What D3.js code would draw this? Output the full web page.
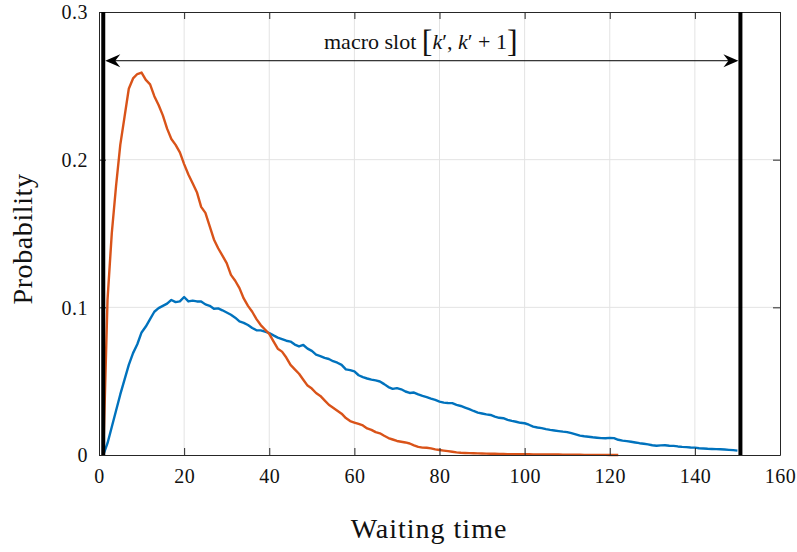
<!DOCTYPE html>
<html>
<head>
<meta charset="utf-8">
<script src="https://cdn.jsdelivr.net/npm/d3@7/dist/d3.min.js"></script>
<style>
  html, body { margin: 0; padding: 0; background: #fff; }
  svg { display: block; }
  text { font-family: "Liberation Serif", "DejaVu Serif", serif; fill: #111; }
</style>
</head>
<body>
<svg id="chart" width="797" height="552"></svg>
<script>
// Waiting-time distributions over one macro slot
const xTicks = [0, 20, 40, 60, 80, 100, 120, 140, 160];
const yTicks = [0, 0.1, 0.2, 0.3];
const yTickLabels = ["0", "0.1", "0.2", "0.3"];

// slot boundaries (waiting time)
const slotStart = 1;
const slotEnd = 150.7;
const arrowLevel = 0.267;

// blue series: waiting time 1, 2, 3, ... 151
const blueStart = 1;
const blueValues = [
  0, 0.008, 0.019, 0.030, 0.041, 0.051, 0.061, 0.069, 0.075, 0.083,
  0.087, 0.092, 0.097, 0.0995, 0.101, 0.1025, 0.105, 0.1035, 0.104, 0.107,
  0.104, 0.1045, 0.104, 0.104, 0.102, 0.101, 0.099, 0.0993, 0.098, 0.0965,
  0.095, 0.093, 0.0905, 0.0895, 0.088, 0.086, 0.0845, 0.0844, 0.0835, 0.0826,
  0.081, 0.0795, 0.0785, 0.0774, 0.0768, 0.0748, 0.0735, 0.0745, 0.072, 0.0705,
  0.068, 0.067, 0.0658, 0.065, 0.0635, 0.0625, 0.061, 0.058, 0.0575, 0.0566,
  0.054, 0.0527, 0.0518, 0.051, 0.0505, 0.0498, 0.048, 0.046, 0.0448, 0.0453,
  0.0445, 0.043, 0.042, 0.0423, 0.041, 0.040, 0.0392, 0.0382, 0.0373, 0.0362,
  0.0355, 0.0352, 0.0351, 0.034, 0.0332, 0.0321, 0.031, 0.0298, 0.0287, 0.0281,
  0.0275, 0.0271, 0.026, 0.0252, 0.0249, 0.0238, 0.0231, 0.0225, 0.0218, 0.0215,
  0.0205, 0.0192, 0.0186, 0.0182, 0.0175, 0.0170, 0.0166, 0.0162, 0.0158, 0.0155,
  0.0148, 0.0140, 0.0131, 0.0127, 0.0124, 0.0120, 0.0117, 0.0114, 0.0113, 0.0116,
  0.0114, 0.0103, 0.0097, 0.0094, 0.0090, 0.0085, 0.0080, 0.0076, 0.0072, 0.0066,
  0.0063, 0.0065, 0.0066, 0.0063, 0.0062, 0.0058, 0.0055, 0.0053, 0.0051, 0.0050,
  0.0046, 0.0044, 0.0042, 0.0041, 0.0040, 0.0039, 0.0037, 0.0035, 0.0033, 0.0030
];

// orange series: waiting time 1, 2, 3, ... 122
const orangeStart = 1;
const orangeValues = [
  0, 0.105, 0.150, 0.182, 0.210, 0.229, 0.248, 0.255, 0.258, 0.259,
  0.254, 0.251, 0.243, 0.237, 0.230, 0.221, 0.214, 0.210, 0.205, 0.197,
  0.190, 0.184, 0.178, 0.168, 0.164, 0.155, 0.146, 0.140, 0.135, 0.130,
  0.122, 0.118, 0.113, 0.106, 0.101, 0.097, 0.092, 0.088, 0.085, 0.082,
  0.077, 0.072, 0.070, 0.066, 0.061, 0.058, 0.055, 0.051, 0.047, 0.045,
  0.042, 0.040, 0.037, 0.034, 0.032, 0.030, 0.028, 0.025, 0.023, 0.022,
  0.021, 0.020, 0.018, 0.017, 0.0155, 0.0147, 0.013, 0.0115, 0.0105, 0.0095,
  0.009, 0.0085, 0.0078, 0.0065, 0.0055, 0.005, 0.0049, 0.0045, 0.0038, 0.0034,
  0.003, 0.0026, 0.0022, 0.0018, 0.0015, 0.0014, 0.0013, 0.0012, 0.0011, 0.0010,
  0.0009, 0.0008, 0.0008, 0.0007, 0.0007, 0.0006, 0.0006, 0.0006, 0.0005, 0.0005,
  0.0005, 0.0004, 0.0004, 0.0004, 0.0003, 0.0003, 0.0003, 0.0003, 0.0002, 0.0002,
  0.0002, 0.0002, 0.0002, 0.0001, 0.0001, 0.0001, 0.0001, 0.0001, 0.0001, 0.0000,
  0.0000, 0.0000
];

const svg = d3.select("#chart");
const plotLeft = 99, plotRight = 780, plotTop = 12, plotBottom = 455;

const x = d3.scaleLinear().domain([0, 160]).range([plotLeft, plotRight]);
const y = d3.scaleLinear().domain([0, 0.3]).range([plotBottom, plotTop]);

const axisColor = "#262626";
const gridColor = "#e3e3e3";
const tickLen = 7;

// grid
const grid = svg.append("g");
grid.selectAll("line.gx").data(xTicks.slice(1, -1)).enter().append("line")
  .attr("x1", d => x(d)).attr("x2", d => x(d))
  .attr("y1", plotTop).attr("y2", plotBottom)
  .attr("stroke", gridColor).attr("stroke-width", 1);
grid.selectAll("line.gy").data(yTicks.slice(1, -1)).enter().append("line")
  .attr("x1", plotLeft).attr("x2", plotRight)
  .attr("y1", d => y(d)).attr("y2", d => y(d))
  .attr("stroke", gridColor).attr("stroke-width", 1);

// series
const line = d3.line().x(d => x(d[0])).y(d => y(d[1]));
const bluePts = blueValues.map((v, i) => [blueStart + i, v]);
const orangePts = orangeValues.map((v, i) => [orangeStart + i, v]);

svg.append("path").datum(bluePts).attr("d", line)
  .attr("fill", "none").attr("stroke", "#0072BD")
  .attr("stroke-width", 2.4).attr("stroke-linejoin", "round");
svg.append("path").datum(orangePts).attr("d", line)
  .attr("fill", "none").attr("stroke", "#D95319")
  .attr("stroke-width", 2.4).attr("stroke-linejoin", "round");

// axes (bottom/left with labels, top/right as mirrored boxes)
const fmtY = d => yTickLabels[yTicks.indexOf(d)];
const gx = svg.append("g").attr("transform", `translate(0,${plotBottom})`)
  .call(d3.axisBottom(x).tickValues(xTicks).tickSizeInner(-tickLen).tickSizeOuter(0).tickPadding(14));
const gxt = svg.append("g").attr("transform", `translate(0,${plotTop})`)
  .call(d3.axisTop(x).tickValues(xTicks).tickSizeInner(-tickLen).tickSizeOuter(0).tickFormat(""));
const gy = svg.append("g").attr("transform", `translate(${plotLeft},0)`)
  .call(d3.axisLeft(y).tickValues(yTicks).tickFormat(fmtY).tickSizeInner(-tickLen).tickSizeOuter(0).tickPadding(11));
const gyr = svg.append("g").attr("transform", `translate(${plotRight},0)`)
  .call(d3.axisRight(y).tickValues(yTicks).tickSizeInner(-tickLen).tickSizeOuter(0).tickFormat(""));

[gx, gxt, gy, gyr].forEach(g => {
  g.select(".domain").attr("stroke", axisColor).attr("stroke-width", 1);
  g.selectAll(".tick line").attr("stroke", axisColor).attr("stroke-width", 1);
  g.selectAll(".tick text")
    .attr("font-family", "'Liberation Serif', serif")
    .attr("font-size", 20).attr("letter-spacing", 0.5).attr("fill", "#111");
});
gy.selectAll(".tick text").attr("dy", "0.34em");

// slot boundaries
svg.selectAll("line.slot").data([slotStart, slotEnd]).enter().append("line")
  .attr("x1", d => x(d)).attr("x2", d => x(d))
  .attr("y1", y(0)).attr("y2", y(0.3))
  .attr("stroke", "#000").attr("stroke-width", 4);

// double arrow across the slot
const ay = y(arrowLevel);
const ax0 = x(slotStart) + 2, ax1 = x(slotEnd) - 2;
svg.append("line")
  .attr("x1", ax0 + 6).attr("x2", ax1 - 6)
  .attr("y1", ay).attr("y2", ay)
  .attr("stroke", "#000").attr("stroke-width", 1);
const head = (tip, dir) => {
  const L = 15, W = 6.5, notch = 10;
  return `M${tip},${ay} L${tip + dir * L},${ay - W} L${tip + dir * notch},${ay} L${tip + dir * L},${ay + W} Z`;
};
svg.append("path").attr("d", head(ax0, 1)).attr("fill", "#000");
svg.append("path").attr("d", head(ax1, -1)).attr("fill", "#000");

// slot label
const mid = x((slotStart + slotEnd) / 2);
const lab = svg.append("text")
  .attr("x", mid - 1).attr("y", 49)
  .attr("text-anchor", "middle")
  .attr("font-size", 22);
lab.append("tspan").text("macro slot ");
lab.append("tspan").attr("font-size", 32).attr("dy", 3).text("[");
lab.append("tspan").attr("dy", -3).attr("font-style", "italic").text("k");
lab.append("tspan").text("′, ");
lab.append("tspan").attr("font-style", "italic").text("k");
lab.append("tspan").text("′ + 1");
lab.append("tspan").attr("font-size", 32).attr("dy", 3).text("]");

// axis titles
svg.append("text")
  .attr("x", 429).attr("y", 538)
  .attr("text-anchor", "middle")
  .attr("font-size", 28).attr("letter-spacing", 1)
  .text("Waiting time");
svg.append("text")
  .attr("transform", "translate(32,239) rotate(-90)")
  .attr("text-anchor", "middle")
  .attr("font-size", 28).attr("letter-spacing", 0.6)
  .text("Probability");
</script>
</body>
</html>
